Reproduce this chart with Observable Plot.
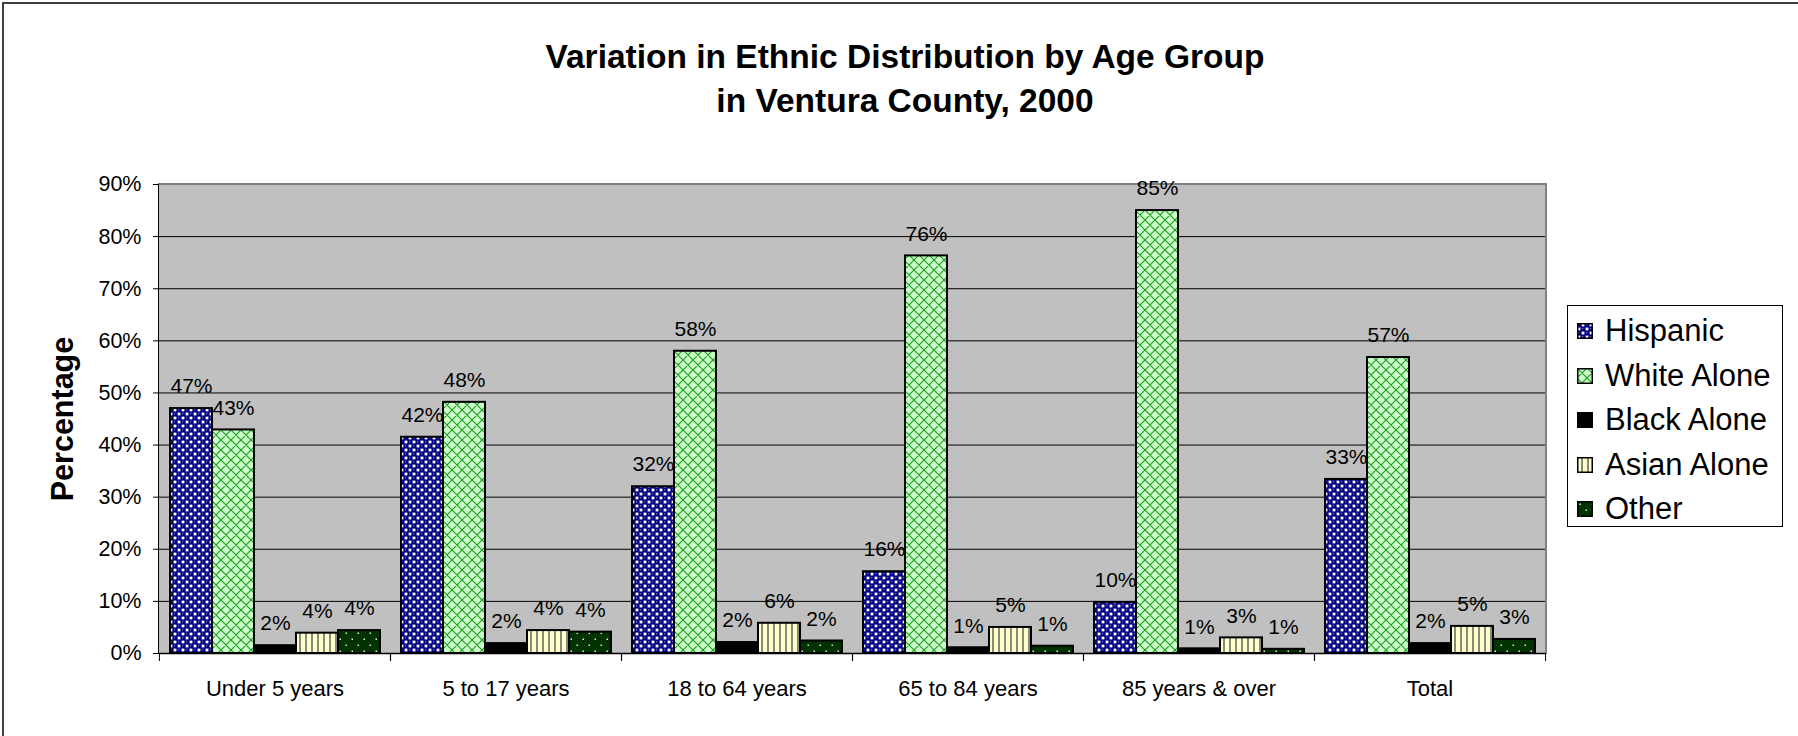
<!DOCTYPE html>
<html>
<head>
<meta charset="utf-8">
<script src="https://cdn.jsdelivr.net/npm/d3@7"></script>
<script src="https://cdn.jsdelivr.net/npm/@observablehq/plot@0.6"></script>
<style>
  html, body { margin: 0; padding: 0; background: #fff; }
  body { width: 1798px; height: 736px; overflow: hidden; font-family: "Liberation Sans", Arial, sans-serif; }
  #wrap { position: relative; width: 1798px; height: 736px; }
  #border { position: absolute; left: 2px; top: 2px; width: 1820px; height: 760px; border-top: 2px solid #404040; border-left: 2px solid #404040; box-sizing: border-box; }
  #title { position: absolute; left: 0; top: 35px; width: 1810px; text-align: center; font-weight: bold; font-size: 33.5px; line-height: 44px; color: #000; }
  #bg { position: absolute; left: 158px; top: 183px; width: 1389px; height: 471px; background: #c0c0c0; border-top: 2px solid #808080; border-right: 2px solid #808080; border-left: 1.5px solid #000; box-sizing: border-box; }
  #ytitle { position: absolute; left: 62px; top: 419px; transform: translate(-50%, -50%) rotate(-90deg); font-weight: bold; font-size: 30.5px; white-space: nowrap; color: #000; }
  #chart { position: absolute; left: 0; top: 0; }
  #legend { position: absolute; left: 1567px; top: 305px; width: 216px; height: 222px; border: 1px solid #000; box-sizing: border-box; background: #fff; padding-top: 3px; }
  .item { height: 44.5px; display: flex; align-items: center; font-size: 31px; color: #000; white-space: nowrap; }
  .item svg { margin-left: 9px; margin-right: 12px; display: block; flex: none; }
</style>
</head>
<body>
<div id="wrap">
  <div id="border"></div>
  <div id="title">Variation in Ethnic Distribution by Age Group<br>in Ventura County, 2000</div>
  <div id="bg"></div>
  <div id="chart"></div>
  <div id="ytitle">Percentage</div>
  <div id="legend"></div>
</div>
<script>
// ---- data ----
const groups = ["Under 5 years", "5 to 17 years", "18 to 64 years", "65 to 84 years", "85 years & over", "Total"];
const series = ["Hispanic", "White Alone", "Black Alone", "Asian Alone", "Other"];
const hispanic   = [47.0, 41.5, 32.0, 15.7, 9.8, 33.4];
const whiteAlone = [42.9, 48.2, 58.0, 76.3, 85.0, 56.8];
const blackAlone = [1.5, 1.9, 2.1, 1.1, 0.9, 1.9];
const asianAlone = [3.9, 4.4, 5.8, 5.0, 3.0, 5.2];
const other      = [4.4, 4.1, 2.4, 1.4, 0.8, 2.7];
const yTicks = [0, 10, 20, 30, 40, 50, 60, 70, 80, 90];

const seriesValues = [hispanic, whiteAlone, blackAlone, asianAlone, other];
const patternIds = ["pHisp", "pWhite", "pBlack", "pAsian", "pOther"];
const rows = [];
groups.forEach((g, gi) => series.forEach((s, si) => rows.push({group: g, series: s, value: seriesValues[si][gi]})));

const W = 1798, H = 736, mL = 158, mR = 253, mT = 184, mB = 83;
const step = (W - mL - mR) / groups.length;

const chart = Plot.plot({
  width: W, height: H,
  marginLeft: mL, marginRight: mR, marginTop: mT, marginBottom: mB,
  style: {background: "transparent", overflow: "visible", fontFamily: '"Liberation Sans", Arial, sans-serif', color: "#000"},
  fx: {domain: groups, padding: 0, label: null},
  x: {domain: series, paddingInner: 0, paddingOuter: 0.21, axis: null},
  y: {domain: [0, 90], label: null},
  color: {domain: series, range: patternIds.map(id => `url(#${id})`)},
  marks: [
    Plot.ruleY(yTicks.filter(t => t > 0 && t < 90), {stroke: "#000", strokeWidth: 1}),
    Plot.barY(rows, {fx: "group", x: "series", y: "value", fill: "series", stroke: "#000", strokeWidth: 2}),
    Plot.ruleY([0], {stroke: "#000", strokeWidth: 1.5}),
    Plot.text(rows, {fx: "group", x: "series", y: "value", text: d => Math.round(d.value) + "%", dy: -22, fontSize: 21, fill: "#000"}),
    Plot.axisY({ticks: yTicks, tickFormat: d => d + "%", tickSize: 6, tickPadding: 12, fontSize: 21.5, label: null}),
    Plot.axisFx({anchor: "bottom", tickSize: 0, tickPadding: 27, fontSize: 22, label: null}),
    Plot.axisFx({anchor: "bottom", tickSize: 8, tickFormat: () => "", dx: -step / 2, label: null}),
    Plot.axisFx({anchor: "bottom", tickSize: 8, tickFormat: () => "", dx: step / 2, label: null})
  ]
});

const ns = "http://www.w3.org/2000/svg";
const defs = document.createElementNS(ns, "defs");
defs.innerHTML = `
  <pattern id="pHisp" patternUnits="userSpaceOnUse" width="8" height="8">
    <rect width="8" height="8" fill="#000080"/>
    <rect x="4.6" y="0.6" width="2.8" height="2.8" fill="#ffffff"/>
    <rect x="0.6" y="4.6" width="2.8" height="2.8" fill="#ffffff"/>
    <circle cx="1.6" cy="1.6" r="0.8" fill="#6a6ad8"/>
    <circle cx="5.6" cy="5.6" r="0.8" fill="#6a6ad8"/>
  </pattern>
  <pattern id="pWhite" patternUnits="userSpaceOnUse" width="10" height="10">
    <rect width="10" height="10" fill="#ccffcc"/>
    <path d="M0,0L10,10M10,0L0,10M-1,9L1,11M9,-1L11,1M-1,1L1,-1M9,11L11,9" stroke="#1a9a1a" stroke-width="1.1" fill="none"/>
  </pattern>
  <pattern id="pBlack" patternUnits="userSpaceOnUse" width="4" height="4">
    <rect width="4" height="4" fill="#000000"/>
  </pattern>
  <pattern id="pAsian" patternUnits="userSpaceOnUse" width="6" height="6">
    <rect width="6" height="6" fill="#ffffcc"/>
    <rect x="4" width="2" height="6" fill="#8a8a7a"/>
  </pattern>
  <pattern id="pOther" patternUnits="userSpaceOnUse" width="12" height="12">
    <rect width="12" height="12" fill="#003300"/>
    <rect x="2.5" y="2.5" width="1.5" height="1.5" fill="#d8f0d8"/>
    <rect x="8.5" y="8.5" width="1.5" height="1.5" fill="#d8f0d8"/>
  </pattern>`;
chart.prepend(defs);
document.getElementById("chart").appendChild(chart);

// legend
const legend = document.getElementById("legend");
series.forEach((s, i) => {
  const item = document.createElement("div");
  item.className = "item";
  item.innerHTML = `<svg width="16" height="16"><rect x="0.75" y="0.75" width="14.5" height="14.5" fill="url(#${patternIds[i]})" stroke="#000" stroke-width="1.5"/></svg><span>${s}</span>`;
  legend.appendChild(item);
});
</script>
</body>
</html>
